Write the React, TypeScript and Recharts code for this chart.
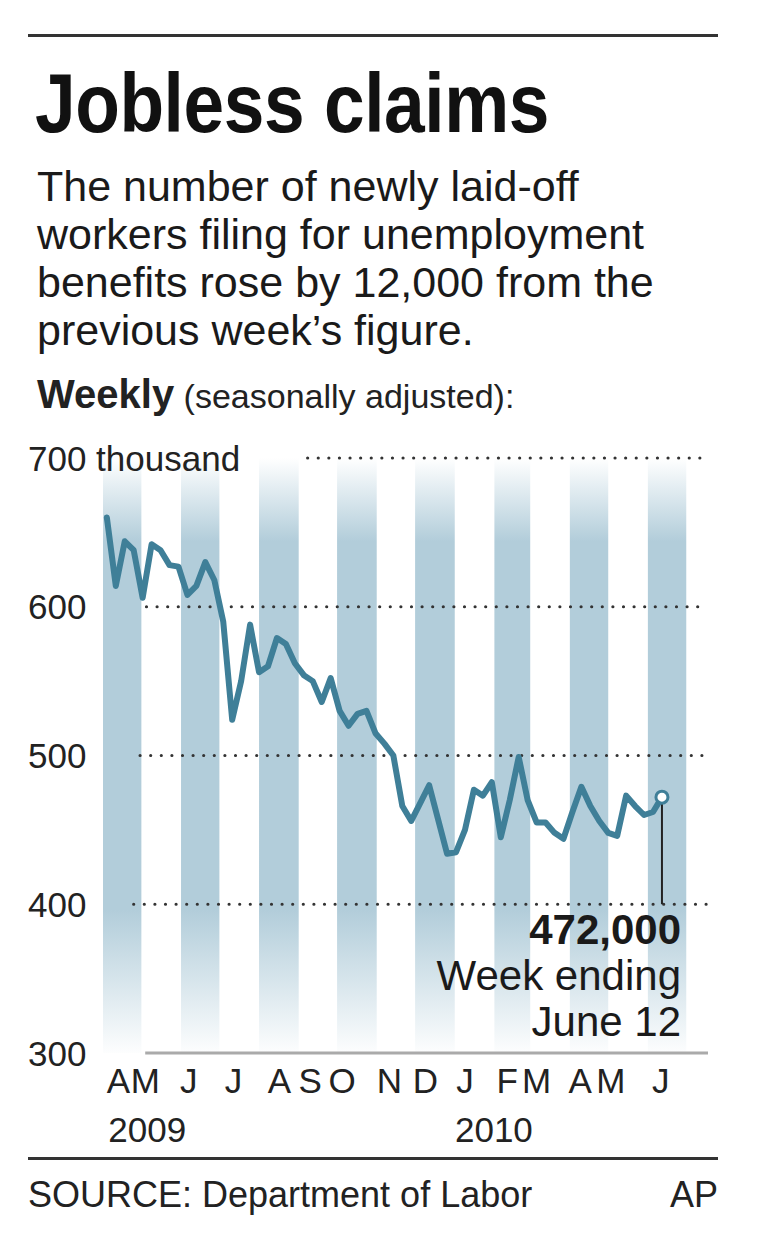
import React from 'react';
import { ComposedChart, Line, XAxis, YAxis, ReferenceArea, ReferenceLine } from 'recharts';

const SANS = "'Liberation Sans', Arial, Helvetica, sans-serif";

// Weekly initial jobless claims (thousands), week ending Apr 4 2009 ... Jun 12 2010
const claims = [
  660, 614, 644, 638, 606, 642, 638, 628, 627, 608,
  614, 630, 618, 590, 524, 550, 588, 556, 560, 579,
  575, 562, 554, 550, 536, 552, 530, 520, 528, 530,
  515, 508, 500, 466, 456, 468, 480, 457, 434, 435,
  450, 477, 473, 482, 445, 470, 499, 470, 455, 455,
  448, 444, 462, 479, 466, 456, 448, 446, 473, 466,
  460, 462, 472,
];
// days counted from Apr 1 2009
const FIRST_WEEK_DAY = 3;
const data = claims.map((value, i) => ({ day: FIRST_WEEK_DAY + 7 * i, value }));
const LAST = data.length - 1;

// Apr 2009 .. Jun 2010
const monthLengths = [30, 31, 30, 31, 31, 30, 31, 30, 31, 31, 28, 31, 30, 31, 30];
const monthStarts: number[] = [];
monthLengths.forEach((len, i) => monthStarts.push(i === 0 ? 0 : monthStarts[i - 1] + monthLengths[i - 1]));
const bands = monthStarts
  .map((start, i) => ({ x1: start, x2: start + monthLengths[i], shaded: i % 2 === 0 }))
  .filter(b => b.shaded);

const monthLabels = ['A', 'M', 'J', 'J', 'A', 'S', 'O', 'N', 'D', 'J', 'F', 'M', 'A', 'M', 'J'];
const monthLabelDays = [12, 33, 67, 102, 138, 162, 187, 224, 252, 283, 316, 339, 373, 397, 436];
const yearLabels: Record<number, string> = { 0: '2009', 9: '2010' };

const yTicks = [300, 400, 500, 600, 700];
const gridLines = [
  { y: 700, from: 160 },
  { y: 600, from: 34 },
  { y: 500, from: 29 },
  { y: 400, from: 24 },
];
const X_MAX = 473;

const LINE_COLOR = '#3f7f98';
const BAND_COLOR = '#b2cdda';

const BandShape = (props: any) => {
  const { x, y, width, height } = props;
  return (
    <g>
      <defs>
        <linearGradient id="bandFade" x1="0" y1="0" x2="0" y2="1">
          <stop offset="0%" stopColor={BAND_COLOR} stopOpacity={0} />
          <stop offset="14%" stopColor={BAND_COLOR} stopOpacity={1} />
          <stop offset="76%" stopColor={BAND_COLOR} stopOpacity={1} />
          <stop offset="100%" stopColor={BAND_COLOR} stopOpacity={0.03} />
        </linearGradient>
      </defs>
      <rect x={x} y={y} width={width} height={height} fill="url(#bandFade)" />
    </g>
  );
};

const YTick = (props: any) => {
  const { y, payload } = props;
  const label = payload.value === 700 ? '700 thousand' : String(payload.value);
  return (
    <text x={28} y={y + 12.5} fontSize={35} fontFamily={SANS} fill="#222" textAnchor="start">
      {label}
    </text>
  );
};

const XTick = (props: any) => {
  const { x, y, payload } = props;
  const idx = monthLabelDays.indexOf(payload.value);
  const year = yearLabels[idx];
  return (
    <g>
      <text x={x} y={y + 40} fontSize={35} fontFamily={SANS} fill="#222" textAnchor="middle">
        {monthLabels[idx]}
      </text>
      {year && (
        <text x={x - 10} y={y + 89} fontSize={35} fontFamily={SANS} fill="#222" textAnchor="start">
          {year}
        </text>
      )}
    </g>
  );
};

const EndDot = (props: any) => {
  const { cx, cy, index } = props;
  if (index !== LAST) return <g key={`d-${index}`} />;
  return <circle key={`d-${index}`} cx={cx} cy={cy} r={6} fill="#fff" stroke={LINE_COLOR} strokeWidth={3} />;
};

const abs = (extra: React.CSSProperties): React.CSSProperties => ({
  position: 'absolute', margin: 0, whiteSpace: 'nowrap', color: '#111', ...extra,
});

export default function App() {
  return (
    <div style={{ position: 'absolute', left: 0, top: 0, width: 760, height: 1245, background: '#fff', overflow: 'hidden' }}>
      <div style={abs({ left: 28, top: 34, width: 690, height: 3, background: '#333' })} />
      <div
        style={abs({
          left: 35, top: 61, fontFamily: SANS, fontWeight: 700, fontSize: 84, lineHeight: '84px',
          transform: 'scaleX(0.87)', transformOrigin: '0 0', letterSpacing: -0.5,
        })}
      >
        Jobless claims
      </div>
      <div style={abs({ left: 37, top: 162, fontFamily: SANS, fontSize: 43, lineHeight: '48px', color: '#1a1a1a' })}>
        The number of newly laid-off<br />
        workers filing for unemployment<br />
        benefits rose by 12,000 from the<br />
        previous week’s figure.
      </div>
      <div style={abs({ left: 37, top: 374, fontFamily: SANS, fontSize: 40, lineHeight: '40px', color: '#222' })}>
        <span style={{ fontWeight: 700 }}>Weekly</span>
        <span style={{ fontSize: 34 }}> (seasonally adjusted):</span>
      </div>

      <div style={{ position: 'absolute', left: 0, top: 0 }}>
        <ComposedChart width={760} height={1245} data={data} margin={{ top: 458, right: 52, bottom: 92, left: 28 }}>
          {bands.map(b => (
            <ReferenceArea
              key={`band-${b.x1}`}
              x1={b.x1}
              x2={b.x2}
              y1={300}
              y2={700}
              ifOverflow="visible"
              shape={BandShape}
            />
          ))}
          {gridLines.map(g => (
            <ReferenceLine
              key={`grid-${g.y}`}
              segment={[{ x: g.from, y: g.y }, { x: X_MAX, y: g.y }]}
              stroke="#333"
              strokeWidth={3.2}
              strokeDasharray="0 10.6"
              strokeLinecap="round"
              ifOverflow="visible"
            />
          ))}
          <ReferenceLine
            segment={[{ x: 33, y: 300 }, { x: X_MAX, y: 300 }]}
            stroke="#aaaaaa"
            strokeWidth={3}
            ifOverflow="visible"
          />
          <ReferenceLine
            segment={[{ x: data[LAST].day, y: data[LAST].value - 4 }, { x: data[LAST].day, y: 400 }]}
            stroke="#222"
            strokeWidth={2}
            ifOverflow="visible"
          />
          <XAxis
            type="number"
            dataKey="day"
            domain={[0, X_MAX]}
            ticks={monthLabelDays}
            interval={0}
            axisLine={false}
            tickLine={false}
            tickSize={0}
            tickMargin={0}
            height={100}
            tick={<XTick />}
          />
          <YAxis
            domain={[300, 700]}
            ticks={yTicks}
            interval={0}
            axisLine={false}
            tickLine={false}
            tickSize={0}
            tickMargin={0}
            width={75}
            tick={<YTick />}
          />
          <Line
            type="linear"
            dataKey="value"
            stroke={LINE_COLOR}
            strokeWidth={6}
            strokeLinejoin="round"
            strokeLinecap="round"
            dot={EndDot}
            activeDot={false}
            isAnimationActive={false}
          />
        </ComposedChart>
      </div>

      <div style={abs({ left: 0, width: 681, top: 907, textAlign: 'right', fontFamily: SANS, fontSize: 42, lineHeight: '46px', color: '#1a1a1a' })}>
        <span style={{ fontWeight: 700 }}>472,000</span><br />
        Week ending<br />
        June 12
      </div>

      <div style={abs({ left: 28, top: 1157, width: 690, height: 3, background: '#333' })} />
      <div style={abs({ left: 28, top: 1177, fontFamily: SANS, fontSize: 36, lineHeight: '36px', color: '#222' })}>
        SOURCE: Department of Labor
      </div>
      <div style={abs({ left: 0, width: 718, top: 1177, textAlign: 'right', fontFamily: SANS, fontSize: 36, lineHeight: '36px', color: '#222' })}>
        AP
      </div>
    </div>
  );
}
